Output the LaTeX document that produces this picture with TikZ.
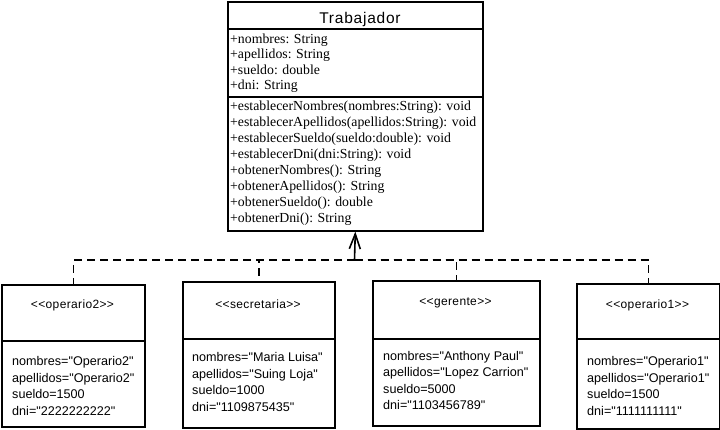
\documentclass[tikz,border=0pt]{standalone}
\usepackage{fontspec}
\setmainfont{Liberation Serif}
\newfontfamily\lsans{Liberation Sans}
\newfontfamily\lsanssp[LetterSpace=3]{Liberation Sans}
\newfontfamily\ltitle[LetterSpace=5]{Liberation Sans}
\usetikzlibrary{arrows.meta}
\begin{document}
\begin{tikzpicture}[x=1pt,y=-1pt,
  box/.style={draw,line width=1.6pt,rectangle,anchor=north west,inner sep=0pt},
  sep/.style={line width=1.6pt},
  attr/.style={anchor=base west,inner sep=0pt,font=\fontsize{13.8}{16}\selectfont},
  val/.style={anchor=base west,inner sep=0pt,font=\lsans\fontsize{12.6}{16}\selectfont},
  stereo/.style={anchor=center,inner sep=0pt,font=\lsanssp\fontsize{12}{14}\selectfont},
  dep/.style={line width=1.6pt,dash pattern=on 8pt off 5pt},
  real/.style={line width=1.6pt,-{Straight Barb[length=15pt,width=11pt]}}]
\useasboundingbox (0,0) rectangle (720,429);
% Trabajador
\node[box,minimum width=255pt,minimum height=229pt] (T) at (227,1) {};
\draw[sep] (227,29) coordinate (ta) -- (482,29) coordinate (tb);
\draw[sep] (227,97) coordinate (tc) -- (482,97) coordinate (td);
\node[anchor=base,inner sep=0pt,font=\ltitle\fontsize{15.5}{18}\selectfont] (tt) at (360,23) {Trabajador};
\node[attr] (a1) at (230,43) {+nombres: String};
\node[attr] (a2) at (230,58.5) {+apellidos: String};
\node[attr] (a3) at (230,74) {+sueldo: double};
\node[attr] (a4) at (230,89.5) {+dni: String};
\node[attr] (m1) at (230,110) {+establecerNombres(nombres:String): void};
\node[attr] (m2) at (230,126) {+establecerApellidos(apellidos:String): void};
\node[attr] (m3) at (230,142) {+establecerSueldo(sueldo:double): void};
\node[attr] (m4) at (230,158.2) {+establecerDni(dni:String): void};
\node[attr] (m5) at (230,174.3) {+obtenerNombres(): String};
\node[attr] (m6) at (230,190.4) {+obtenerApellidos(): String};
\node[attr] (m7) at (230,206.5) {+obtenerSueldo(): double};
\node[attr] (m8) at (230,222.5) {+obtenerDni(): String};
% operario2
\node[box,minimum width=143pt,minimum height=142pt] (o2) at (1,284) {};
\draw[sep] (1,341) -- (144,341);
\node[stereo] (o2s) at (72.5,305) {<<operario2>>};
\node[val] (o2a) at (12,365.5) {nombres="Operario2"};
\node[val] (o2b) at (12,382) {apellidos="Operario2"};
\node[val] (o2c) at (12,398.5) {sueldo=1500};
\node[val] (o2d) at (12,415) {dni="2222222222"};
% secretaria
\node[box,minimum width=152pt,minimum height=146pt] (se) at (182,281) {};
\draw[sep] (182,339) -- (334,339);
\node[stereo] (ses) at (258,304) {<<secretaria>>};
\node[val] (sea) at (192,361.5) {nombres="Maria Luisa"};
\node[val] (seb) at (192,378) {apellidos="Suing Loja"};
\node[val] (sec) at (192,394.5) {sueldo=1000};
\node[val] (sed) at (192,411) {dni="1109875435"};
% gerente
\node[box,minimum width=167pt,minimum height=145pt] (ge) at (372,280) {};
\draw[sep] (372,339) -- (539,339);
\node[stereo] (ges) at (455.5,303) {<<gerente>>};
\node[val] (gea) at (383,360) {nombres="Anthony Paul"};
\node[val] (geb) at (383,376.5) {apellidos="Lopez Carrion"};
\node[val] (gec) at (383,393) {sueldo=5000};
\node[val] (ged) at (383,409.5) {dni="1103456789"};
% operario1
\node[box,minimum width=143pt,minimum height=145pt] (o1) at (576,283) {};
\draw[sep] (576,339) -- (719,339);
\node[stereo] (o1s) at (647.5,305) {<<operario1>>};
\node[val] (o1a) at (587,365.5) {nombres="Operario1"};
\node[val] (o1b) at (587,382) {apellidos="Operario1"};
\node[val] (o1c) at (587,398.5) {sueldo=1500};
\node[val] (o1d) at (587,415) {dni="1111111111"};
% connectors
\coordinate (j) at (354.5,260);
\draw[dep] (j) -| (o2.north);
\draw[dep] (j) -| (se.north);
\draw[dep] (j) -| (ge.north);
\draw[dep] (j) -| (o1.north);
\draw[real] (j) -- (T.south);
\end{tikzpicture}
\end{document}
